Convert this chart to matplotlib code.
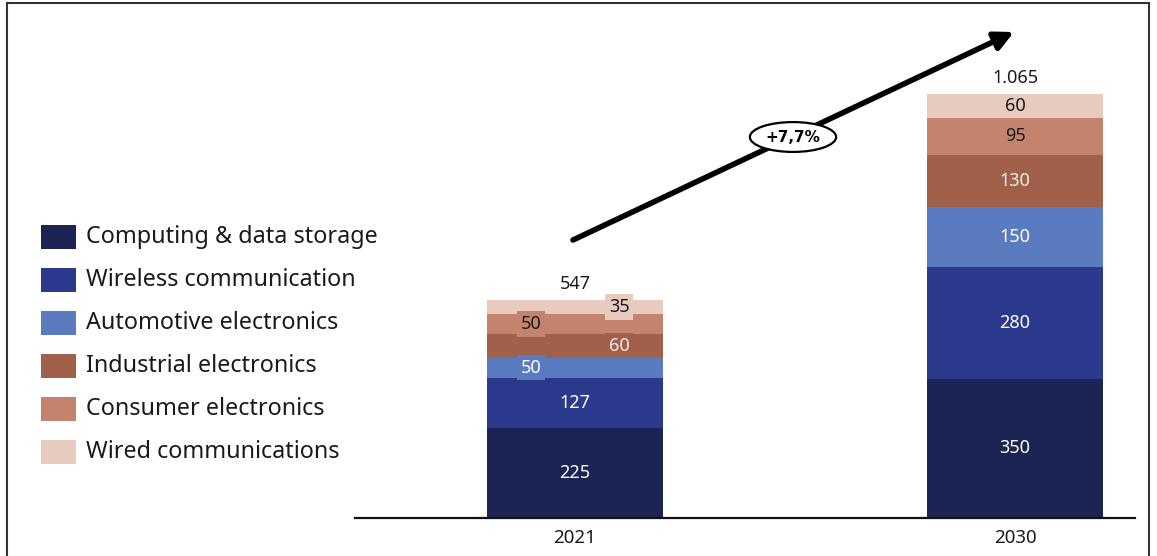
import matplotlib
matplotlib.use('agg')
import matplotlib.pyplot as plt
from matplotlib.patches import Rectangle
from matplotlib.lines import Line2D
import numpy as np

plt.rcParams['font.family'] = ['Noto Sans', 'DejaVu Sans']

years = ["2021", "2030"]
segments = ["Computing & data storage", "Wireless communication", "Automotive electronics",
            "Industrial electronics", "Consumer electronics", "Wired communications"]
computing = [225, 350]
wireless = [127, 280]
automotive = [50, 150]
industrial = [60, 130]
consumer = [50, 95]
wired = [35, 60]
growth = "+7,7%"

colors = ["#1b2452", "#2b3a8c", "#5a7bbf", "#a0604a", "#c4836c", "#e8cbbf"]
# text colour per segment, per year
txt_colors = [["white", "white"], ["white", "white"], ["white", "white"],
              ["#f6ece6", "#f6ece6"], ["#1a1a1a", "#1a1a1a"], ["#1a1a1a", "#1a1a1a"]]
# small segments of the first bar get their labels pushed sideways
x_shift = [[0, 0], [0, 0], [-0.1, 0], [0.1, 0], [-0.1, 0], [0.1, 0]]

W, H = 1157, 556
fig = plt.figure(figsize=(W / 100, H / 100), dpi=100)


def px(x, y):
    # pixel position (top-left origin) -> figure fraction
    return x / W, 1 - y / H


ax = fig.add_axes([355 / W, 38 / H, 780 / W, 500 / H])
series = [computing, wireless, automotive, industrial, consumer, wired]
xpos = np.arange(len(years))
bottom = np.zeros(len(years))
for i, vals in enumerate(series):
    vals = np.array(vals, dtype=float)
    ax.bar(xpos, vals, 0.4, bottom=bottom, color=colors[i], linewidth=0)
    for j in range(len(years)):
        dx = x_shift[i][j]
        box = None
        if dx != 0:
            box = dict(boxstyle='square,pad=0.2', fc=colors[i], ec='none')
        ax.text(xpos[j] + dx, bottom[j] + vals[j] / 2, str(int(vals[j])),
                ha='center', va='center', fontsize=13, color=txt_colors[i][j], bbox=box)
    bottom += vals

for j in range(len(years)):
    tot = f"{int(bottom[j]):,}".replace(",", ".")
    ax.text(xpos[j], bottom[j] + 40, tot, ha='center', va='center', fontsize=13, color='#1a1a1a')

ax.set_xlim(-0.5, 1.2727)
ax.set_ylim(0, 1254.7)
ax.set_xticks(xpos)
ax.set_xticklabels(years, fontsize=13.5, color='#1a1a1a')
ax.tick_params(axis='x', length=0, pad=8)
ax.set_yticks([])
for s in ['top', 'right', 'left']:
    ax.spines[s].set_visible(False)
ax.spines['bottom'].set_linewidth(1.6)
ax.spines['bottom'].set_color('#111111')

# growth arrow
ax.annotate("", xy=px(1014, 32), xycoords='figure fraction',
            xytext=px(573, 240), textcoords='figure fraction',
            arrowprops=dict(arrowstyle='-|>', lw=4, color='black', mutation_scale=28,
                            shrinkA=0, shrinkB=0))
fig.text(*px(793, 137), growth, ha='center', va='center', fontsize=11, fontweight='bold',
         family='DejaVu Sans',
         bbox=dict(boxstyle='ellipse,pad=0.2', fc='white', ec='black', lw=1.6))

# legend
for i, name in enumerate(segments):
    cy = 237 + 43 * i
    x0, y0 = px(41, cy + 12)
    fig.patches.append(Rectangle((x0, y0), 35 / W, 24 / H, transform=fig.transFigure,
                                 fc=colors[i], ec='none'))
    fig.text(*px(86, cy), name, ha='left', va='center', fontsize=16.8, color='#1a1a1a')

# frame
for (xa, ya), (xb, yb) in [((7, 560), (7, 3)), ((7, 3), (1149, 3)), ((1149, 3), (1149, 560))]:
    p1, p2 = px(xa, ya), px(xb, yb)
    fig.add_artist(Line2D([p1[0], p2[0]], [p1[1], p2[1]], transform=fig.transFigure,
                          color='#333333', lw=1.5))

fig.savefig('out.png', dpi=100)
